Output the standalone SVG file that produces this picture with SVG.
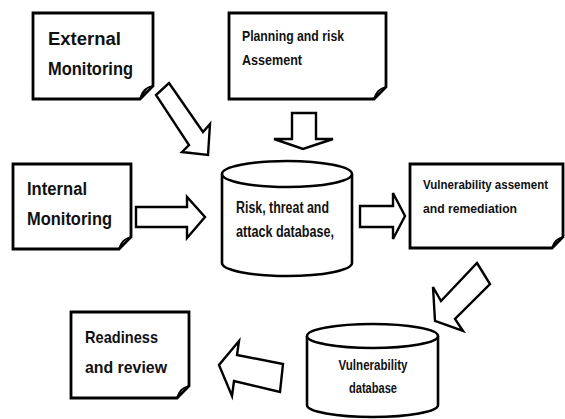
<svg xmlns="http://www.w3.org/2000/svg" width="565" height="419" viewBox="0 0 565 419">
<style>
.box{fill:#fff;stroke:#000;stroke-width:2.8;stroke-linejoin:miter}
.fold{fill:#fff;stroke:#000;stroke-width:1.6;stroke-linejoin:round}
.folddark{fill:#222;stroke:#000;stroke-width:1.6;stroke-linejoin:round}
.cyl{fill:#fff;stroke:#000;stroke-width:2.6}
.arr{fill:#fff;stroke:#000;stroke-width:2.4;stroke-linejoin:miter}
text{font-family:"Liberation Sans",Arial,sans-serif;font-weight:bold;fill:#111}
</style>
<rect width="565" height="419" fill="#fff"/>

<g id="connectors">
  <polygon class="arr" points="169,83 203,132 210,124 208,155 182,152 189,145 156,95"/>
  <polygon class="arr" points="292,113 316,113 316,139 333,139 303,149 274,139 292,139"/>
  <polygon class="arr" points="136,207 187,207 187,197 205,217 187,238 187,227 136,227"/>
  <polygon class="arr" points="360,206 393,206 393,193 405,216 393,239 393,227 360,227"/>
  <polygon class="arr" points="477,263 490,284 455,319 463,331 435,321 433,287 441,301"/>
  <polygon class="arr" points="283,364 280,392 234,381 232,396 219,365 239,341 237,355"/>
</g>

<g id="external-monitoring">
  <path class="box" d="M33,13 H153 V86 L140,99 H33 Z"/>
  <path class="folddark" d="M140,99 C142,91 145,88 153,86 C148,86 146,88 140,99 Z"/>
  <text x="48" y="45" font-size="18" textLength="73" lengthAdjust="spacingAndGlyphs">External</text>
  <text x="48" y="75" font-size="18" textLength="85" lengthAdjust="spacingAndGlyphs">Monitoring</text>
</g>

<g id="planning">
  <path class="box" d="M229,13 H386 V87 L374,99 H229 Z"/>
  <path class="fold" d="M374,99 C376,92 379,89 386,87 C381,88 378,90 374,99 Z"/>
  <text x="242" y="41" font-size="14.5" textLength="102" lengthAdjust="spacingAndGlyphs">Planning and risk</text>
  <text x="242" y="65" font-size="14.5" textLength="60" lengthAdjust="spacingAndGlyphs">Assement</text>
</g>

<g id="internal-monitoring">
  <path class="box" d="M13,164 H131 V237 L119,249 H13 Z"/>
  <path class="fold" d="M119,249 C121,242 124,239 131,237 C126,238 123,240 119,249 Z"/>
  <text x="27" y="195" font-size="18" textLength="60" lengthAdjust="spacingAndGlyphs">Internal</text>
  <text x="27" y="225" font-size="18" textLength="85" lengthAdjust="spacingAndGlyphs">Monitoring</text>
</g>

<g id="risk-database">
  <path class="cyl" d="M222,174 V263 A65,13 0 0 0 352,263 V174"/>
  <ellipse class="cyl" cx="287" cy="174" rx="65" ry="13"/>
  <text x="236" y="213" font-size="16" textLength="93" lengthAdjust="spacingAndGlyphs">Risk, threat and</text>
  <text x="236" y="237" font-size="16" textLength="98" lengthAdjust="spacingAndGlyphs">attack database,</text>
</g>

<g id="vulnerability-assessment">
  <path class="box" d="M410,164 H563 V237 L552,248 H410 Z"/>
  <path class="fold" d="M552,248 C554,241 557,239 563,237 C558,238 556,240 552,248 Z"/>
  <text x="423" y="189" font-size="12.5" textLength="125" lengthAdjust="spacingAndGlyphs">Vulnerability assement</text>
  <text x="423" y="213" font-size="12.5" textLength="94" lengthAdjust="spacingAndGlyphs">and remediation</text>
</g>

<g id="vulnerability-database">
  <path class="cyl" d="M307,336 V405 A65.5,12 0 0 0 438,405 V336"/>
  <ellipse class="cyl" cx="372.5" cy="336" rx="65.5" ry="12"/>
  <text x="373" y="370" font-size="14" text-anchor="middle" textLength="69" lengthAdjust="spacingAndGlyphs">Vulnerability</text>
  <text x="373" y="393" font-size="14" text-anchor="middle" textLength="48" lengthAdjust="spacingAndGlyphs">database</text>
</g>

<g id="readiness-review">
  <path class="box" d="M71,312 H189 V386 L177,398 H71 Z"/>
  <path class="fold" d="M177,398 C179,391 182,388 189,386 C184,387 181,389 177,398 Z"/>
  <text x="85" y="343" font-size="17" textLength="73" lengthAdjust="spacingAndGlyphs">Readiness</text>
  <text x="85" y="373" font-size="17" textLength="82" lengthAdjust="spacingAndGlyphs">and review</text>
</g>
</svg>
